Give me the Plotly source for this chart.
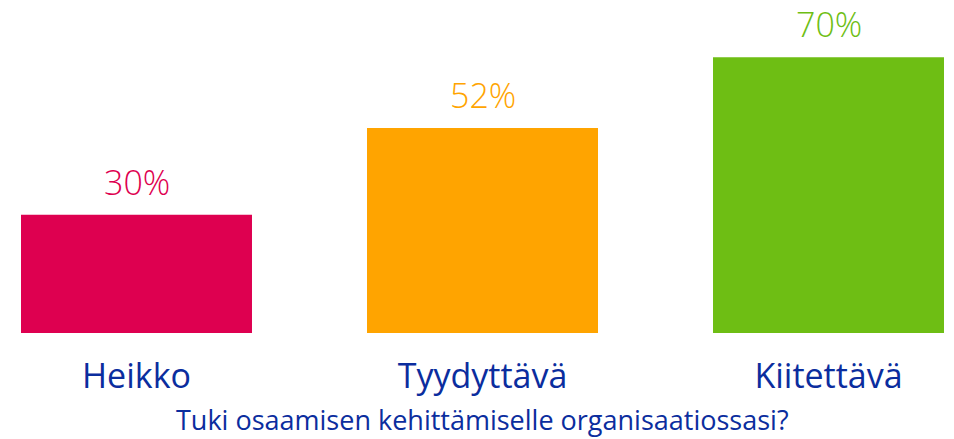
import plotly.graph_objects as go

categories = ["Heikko", "Tyydyttävä", "Kiitettävä"]
values = [30, 52, 70]
labels = ["30%", "52%", "70%"]
colors = ["#DE0050", "#FFA400", "#6EBE14"]
title_text = "Tuki osaamisen kehittämiselle organisaatiossasi?"
text_blue = "#0B2D9E"
font_family = "'Open Sans', sans-serif"

x_idx = list(range(len(categories)))

fig = go.Figure(
    go.Bar(
        x=x_idx,
        y=values,
        marker=dict(color=colors, line=dict(width=0)),
        hoverinfo="skip",
    )
)

for i, (v, lab, c) in enumerate(zip(values, labels, colors)):
    fig.add_annotation(
        x=i, y=v, xref="x", yref="y", text=lab, showarrow=False,
        yanchor="bottom", yshift=9, borderpad=0,
        font=dict(family=font_family, size=34, color=c, weight=300),
    )

# axis title, centred under the middle category as in the reference
fig.add_annotation(
    x=x_idx[len(x_idx) // 2], y=0, xref="x", yref="paper",
    text=title_text, showarrow=False, yanchor="top", yshift=-66,
    font=dict(family=font_family, size=27, color=text_blue),
)

fig.update_layout(
    width=954, height=439,
    margin=dict(l=0, r=0, t=0, b=106),
    paper_bgcolor="white", plot_bgcolor="white",
    bargap=0.3324,
    showlegend=False,
    font=dict(family=font_family),
    xaxis=dict(
        range=[-0.3945, 2.3627],
        tickmode="array",
        tickvals=x_idx,
        ticktext=categories,
        tickfont=dict(size=34, color=text_blue, family=font_family),
        ticks="outside", ticklen=13, tickcolor="rgba(0,0,0,0)",
        showgrid=False, zeroline=False, showline=False,
        automargin=False,
        fixedrange=True,
    ),
    yaxis=dict(
        range=[0, 84.5], visible=False, showgrid=False, zeroline=False,
        fixedrange=True,
    ),
)

fig.write_html(
    "out.html",
    config={"displayModeBar": False},
    post_script="document.body.style.margin='0';",
)
